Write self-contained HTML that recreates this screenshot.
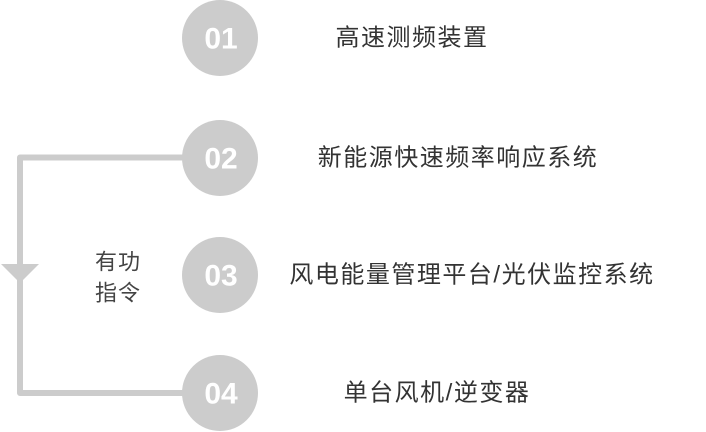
<!DOCTYPE html>
<html><head><meta charset="utf-8"><style>
html,body{margin:0;padding:0;background:#fff;width:706px;height:432px;overflow:hidden}
svg text{font-family:"Liberation Sans","Noto Sans CJK SC",sans-serif}
</style></head><body>
<svg width="706" height="432" viewBox="0 0 706 432" xmlns="http://www.w3.org/2000/svg">
<path d="M200 157.5 H20 V393 H200" fill="none" stroke="#cccccc" stroke-width="6" stroke-linejoin="round"/>
<polygon points="1,264 39,264 20,283" fill="#cccccc"/>
<g fill="#cccccc">
<circle cx="220" cy="38" r="38"/>
<circle cx="220" cy="158" r="38"/>
<circle cx="220" cy="275" r="38"/>
<circle cx="220" cy="393" r="38"/>
</g>
<g fill="#fff" font-size="30" font-weight="bold" text-anchor="middle" dominant-baseline="central">
<text x="221" y="39">01</text>
<text x="221" y="159">02</text>
<text x="221" y="276">03</text>
<text x="221" y="394">04</text>
</g>
<g fill="#333" font-size="24" letter-spacing="1.5" text-anchor="middle" dominant-baseline="central">
<text x="412" y="38">高速测频装置</text>
<text x="458" y="158">新能源快速频率响应系统</text>
<text x="472" y="275">风电能量管理平台/光伏监控系统</text>
<text x="437" y="393">单台风机/逆变器</text>
</g>
<g fill="#444" font-size="22" letter-spacing="1" text-anchor="middle" dominant-baseline="central">
<text x="118" y="262">有功</text>
<text x="118" y="293">指令</text>
</g>
</svg>
</body></html>
